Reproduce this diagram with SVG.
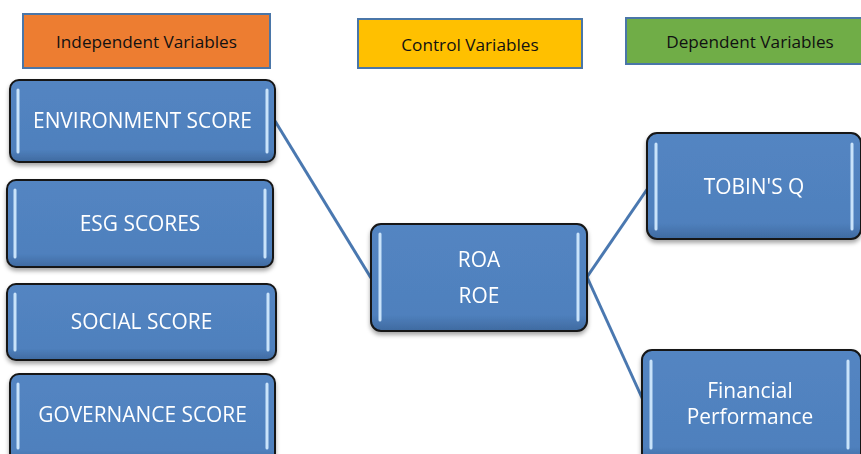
<svg xmlns="http://www.w3.org/2000/svg" width="861" height="454" viewBox="0 0 861 454">
<style>
.hdr{stroke:#4a76a8;stroke-width:2}
.htxt{font-family:"Open Sans","Liberation Sans",sans-serif;font-size:17.2px;fill:#111;text-anchor:middle}
.box{fill:url(#bg);stroke:#151515;stroke-width:2}
.hl{stroke:#c9e3fa;stroke-width:3;stroke-linecap:round;fill:none}
.ntxt{font-family:"Open Sans","Liberation Sans",sans-serif;font-size:20.9px;fill:#fff;text-anchor:middle}
.conn{stroke:#4a78b0;stroke-width:3;fill:none}
</style>
<defs>
<linearGradient id="bg" x1="0" y1="0" x2="0" y2="1">
<stop offset="0" stop-color="#5385c2"/>
<stop offset="0.85" stop-color="#4f80bd"/>
<stop offset="1" stop-color="#3f6aa0"/>
</linearGradient>
<filter id="sh" x="-10%" y="-10%" width="120%" height="130%">
<feDropShadow dx="0" dy="3" stdDeviation="2" flood-color="#000" flood-opacity="0.35"/>
</filter>
</defs>
<rect width="861" height="454" fill="#fff"/>
<g id="connectors">
<line class="conn" x1="275" y1="121" x2="371" y2="278"/>
<line class="conn" x1="587" y1="277" x2="648" y2="188"/>
<line class="conn" x1="587" y1="277" x2="643" y2="400"/>
</g>
<g id="hdr-independent">
<rect class="hdr" x="23" y="14" width="247" height="54" fill="#ed7d31"/>
<text class="htxt" x="146.5" y="48">Independent Variables</text>
</g>
<g id="hdr-control">
<rect class="hdr" x="358" y="19" width="224" height="49" fill="#ffc000"/>
<text class="htxt" x="470" y="51">Control Variables</text>
</g>
<g id="hdr-dependent">
<rect class="hdr" x="626" y="18" width="240" height="46" fill="#70ad47"/>
<text class="htxt" x="750" y="48">Dependent Variables</text>
</g>
<g id="n-environment" filter="url(#sh)">
<rect class="box" x="10" y="80" width="265" height="82" rx="9"/>
<line class="hl" x1="18" y1="90" x2="18" y2="152"/>
<line class="hl" x1="267" y1="90" x2="267" y2="152"/>
<text class="ntxt" x="142.5" y="128">ENVIRONMENT SCORE</text>
</g>
<g id="n-esg" filter="url(#sh)">
<rect class="box" x="7" y="180" width="266" height="87" rx="9"/>
<line class="hl" x1="15" y1="190" x2="15" y2="257"/>
<line class="hl" x1="265" y1="190" x2="265" y2="257"/>
<text class="ntxt" x="140" y="231">ESG SCORES</text>
</g>
<g id="n-social" filter="url(#sh)">
<rect class="box" x="7" y="284" width="269" height="76" rx="9"/>
<line class="hl" x1="15" y1="294" x2="15" y2="350"/>
<line class="hl" x1="268" y1="294" x2="268" y2="350"/>
<text class="ntxt" x="141.5" y="329">SOCIAL SCORE</text>
</g>
<g id="n-governance" filter="url(#sh)">
<rect class="box" x="10" y="374" width="265" height="90" rx="9"/>
<line class="hl" x1="18" y1="384" x2="18" y2="448"/>
<line class="hl" x1="267" y1="384" x2="267" y2="448"/>
<text class="ntxt" x="142.5" y="422">GOVERNANCE SCORE</text>
</g>
<g id="n-roa-roe" filter="url(#sh)">
<rect class="box" x="371" y="224" width="216" height="107" rx="10"/>
<line class="hl" x1="380" y1="234" x2="380" y2="320"/>
<line class="hl" x1="578" y1="234" x2="578" y2="320"/>
<text class="ntxt" x="479" y="267">ROA</text>
<text class="ntxt" x="479" y="303">ROE</text>
</g>
<g id="n-tobin" filter="url(#sh)">
<rect class="box" x="647" y="133" width="214" height="106" rx="10"/>
<line class="hl" x1="656" y1="144" x2="656" y2="229"/>
<line class="hl" x1="852" y1="144" x2="852" y2="229"/>
<text class="ntxt" x="754" y="194">TOBIN'S Q</text>
</g>
<g id="n-financial" filter="url(#sh)">
<rect class="box" x="642" y="350" width="219" height="114" rx="10"/>
<line class="hl" x1="651" y1="361" x2="651" y2="448"/>
<line class="hl" x1="848" y1="361" x2="848" y2="448"/>
<text class="ntxt" x="750" y="398">Financial</text>
<text class="ntxt" x="750" y="424">Performance</text>
</g>
</svg>
